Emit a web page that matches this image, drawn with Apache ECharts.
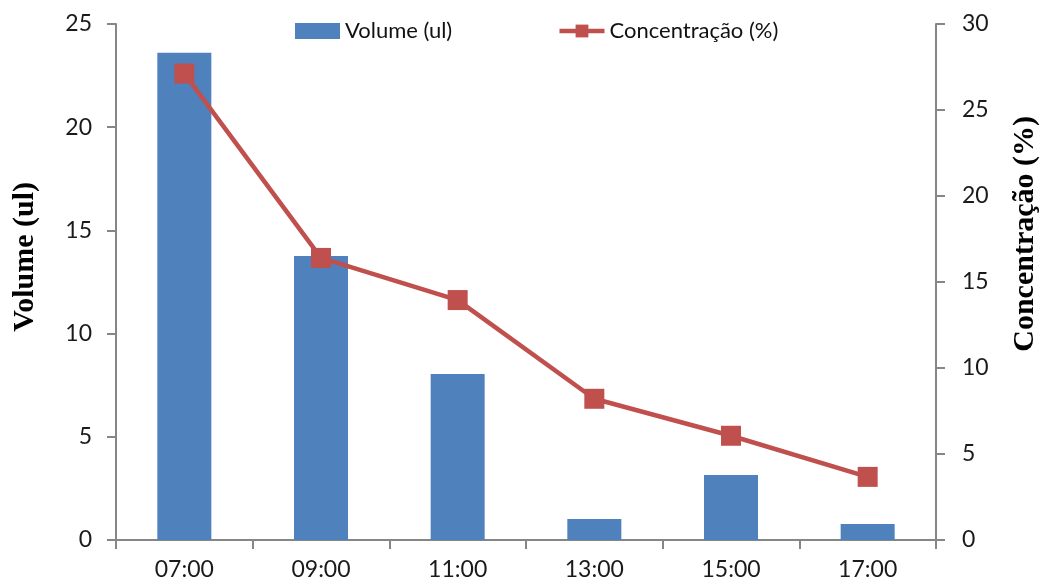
<!DOCTYPE html>
<html>
<head>
<meta charset="utf-8">
<script src="https://cdn.jsdelivr.net/npm/echarts@6/dist/echarts.min.js"></script>
<style>html,body{margin:0;padding:0;background:#fff;}#c{width:1047px;height:587px;}</style>
</head>
<body>
<div id="c"></div>
<script>
const categories = ['07:00', '09:00', '11:00', '13:00', '15:00', '17:00'];
const volume = [23.61, 13.76, 8.04, 1.02, 3.15, 0.78];
const concentracao = [27.12, 16.40, 13.95, 8.21, 6.06, 3.67];
const leftTicks = { min: 0, max: 25, interval: 5 };
const rightTicks = { min: 0, max: 30, interval: 5 };

const chart = echarts.init(document.getElementById('c'));
const axisGray = '#868686';
const labelFont = { fontFamily: 'Lato', fontSize: 23, color: '#1a1a1a' };
chart.setOption({
  animation: false,
  backgroundColor: '#fff',
  grid: { left: 116, right: 111, top: 24, bottom: 47 },
  legend: {
    left: 290, top: 15, itemGap: 105, itemWidth: 45, itemHeight: 16,
    textStyle: { fontFamily: 'Lato', fontSize: 22, color: '#111' },
    data: [
      { name: 'Volume (ul)', icon: 'rect', itemStyle: { color: '#4F81BD' } },
      { name: 'Concentração (%)', lineStyle: { width: 4.5, color: '#C0504D' } }
    ]
  },
  xAxis: {
    type: 'category', data: categories,
    axisLine: { lineStyle: { color: axisGray, width: 2 } },
    axisTick: { show: true, length: 9, lineStyle: { color: axisGray, width: 2 } },
    axisLabel: Object.assign({ margin: 18 }, labelFont)
  },
  yAxis: [
    {
      type: 'value', min: leftTicks.min, max: leftTicks.max, interval: leftTicks.interval,
      position: 'left',
      axisLine: { show: true, lineStyle: { color: axisGray, width: 2 } },
      axisTick: { show: true, length: 9, lineStyle: { color: axisGray, width: 2 } },
      splitLine: { show: false },
      axisLabel: Object.assign({ margin: 24 }, labelFont)
    },
    {
      type: 'value', min: rightTicks.min, max: rightTicks.max, interval: rightTicks.interval,
      position: 'right',
      axisLine: { show: true, lineStyle: { color: axisGray, width: 2 } },
      axisTick: { show: true, length: 9, lineStyle: { color: axisGray, width: 2 } },
      splitLine: { show: false },
      axisLabel: Object.assign({ margin: 26 }, labelFont)
    }
  ],
  series: [
    {
      name: 'Volume (ul)', type: 'bar', data: volume, yAxisIndex: 0,
      barWidth: 54, itemStyle: { color: '#4F81BD' }
    },
    {
      name: 'Concentração (%)', type: 'line', data: concentracao, yAxisIndex: 1,
      symbol: 'rect', symbolSize: 20,
      lineStyle: { color: '#C0504D', width: 4.5 },
      itemStyle: { color: '#C0504D' }
    }
  ],
  graphic: [
    {
      type: 'text', left: 10, top: 182, rotation: Math.PI / 2,
      style: { text: 'Volume (ul)', font: 'bold 30px "Liberation Serif"', fill: '#000' }
    },
    {
      type: 'text', left: 1010, top: 116, rotation: Math.PI / 2,
      style: { text: 'Concentração (%)', font: 'bold 30px "Liberation Serif"', fill: '#000' }
    }
  ]
});
</script>
</body>
</html>
